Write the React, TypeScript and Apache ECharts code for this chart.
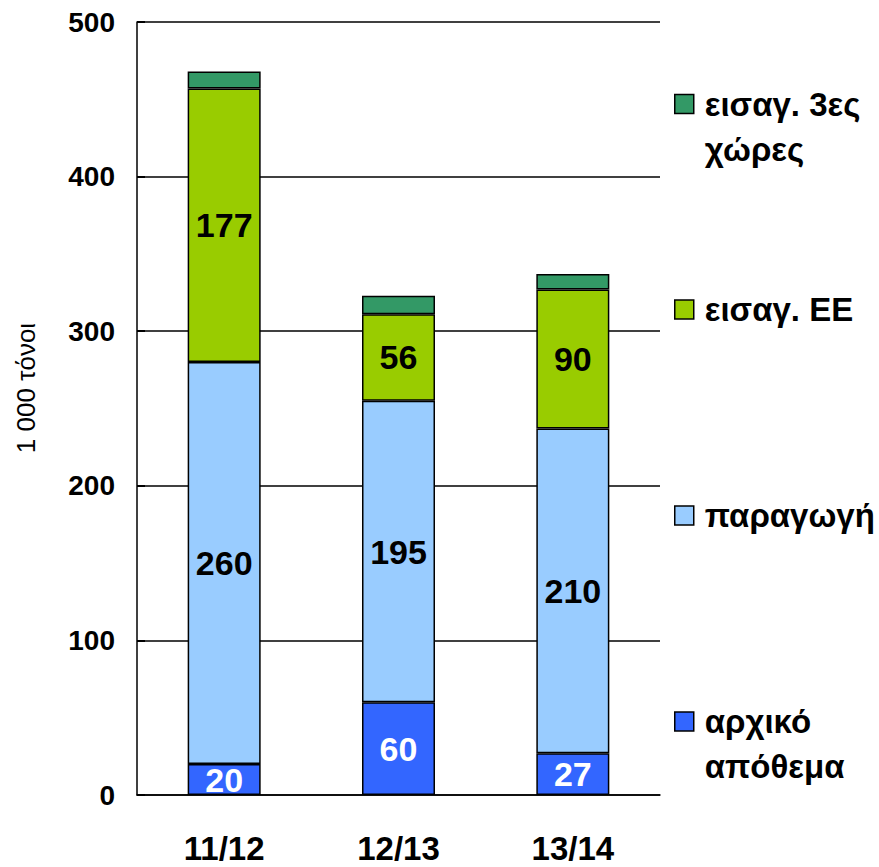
import React, { useEffect, useRef } from "react";
import * as echarts from "echarts";

const categories = ["11/12", "12/13", "13/14"];
const seriesNames = ["αρχικό\nαπόθεμα", "παραγωγή", "εισαγ. ΕΕ", "εισαγ. 3ες\nχώρες"];
const openingStock = [20, 60, 27];
const production = [260, 195, 210];
const euImports = [177, 56, 90];
const thirdCountryImports = [11, 12, 10];
const seriesColors = ["#3366FF", "#99CCFF", "#99CC00", "#339966"];
const labelColors = ["#FFFFFF", "#000000", "#000000", "#000000"];
const showLabels = [true, true, true, false];
const yTicks = { min: 0, max: 500, interval: 100 };
const yAxisTitle = "1 000 τόνοι";

const FONT = "Arial, 'Liberation Sans', Helvetica, sans-serif";

export default function App() {
  const ref = useRef<HTMLDivElement>(null);
  useEffect(() => {
    if (!ref.current) return;
    const chart = echarts.init(ref.current, null, { renderer: "svg" });
    const values = [openingStock, production, euImports, thirdCountryImports];
    const LH = 45;
    const option = {
      animation: false,
      backgroundColor: "#FFFFFF",
      textStyle: { fontFamily: FONT },
      grid: { left: 137, right: 219, top: 22, bottom: 72, containLabel: false },
      legend: {
        orient: "vertical",
        left: 674,
        top: 42,
        padding: 0,
        itemGap: 82,
        itemWidth: 19,
        itemHeight: 19,
        icon: "rect",
        selectedMode: false,
        itemStyle: { borderColor: "#000", borderWidth: 1.5 },
        data: [...seriesNames].reverse(),
        formatter: (name: string) => {
          const lines = name.split("\n");
          if (lines.length === 1) return `{s| }\n{t|${lines[0]}}\n{s| }`;
          return `{s| }\n{t|${lines[0]}}\n{t|${lines[1]}}`;
        },
        textStyle: {
          fontFamily: FONT,
          rich: {
            s: { fontSize: 34, lineHeight: LH, fontFamily: FONT },
            t: {
              fontSize: 33,
              lineHeight: LH,
              fontWeight: "bold",
              color: "#000",
              fontFamily: FONT,
              padding: [0, 0, 0, 6],
            },
          },
        },
      },
      xAxis: {
        type: "category",
        data: categories,
        axisLine: { show: true, lineStyle: { color: "#000", width: 1.5 } },
        axisTick: { show: false },
        axisLabel: {
          fontSize: 33,
          fontWeight: "bold",
          color: "#000",
          margin: 37,
          fontFamily: FONT,
        },
      },
      yAxis: {
        type: "value",
        min: yTicks.min,
        max: yTicks.max,
        interval: yTicks.interval,
        axisLine: { show: true, lineStyle: { color: "#000", width: 1.5 } },
        axisTick: { show: true, inside: true, length: 8, lineStyle: { color: "#000", width: 2 } },
        splitLine: { show: true, lineStyle: { color: "#000", width: 1.5 } },
        axisLabel: {
          fontSize: 28,
          fontWeight: "bold",
          color: "#000",
          margin: 22,
          fontFamily: FONT,
        },
      },
      graphic: [
        {
          type: "text",
          x: 26,
          y: 388,
          rotation: Math.PI / 2,
          style: {
            text: yAxisTitle,
            fontSize: 26,
            fontFamily: FONT,
            fill: "#000",
            align: "center",
            verticalAlign: "middle",
          },
        },
      ],
      series: seriesNames.map((name, i) => ({
        name,
        type: "bar",
        stack: "total",
        barWidth: 73,
        data: values[i],
        itemStyle: { color: seriesColors[i], borderColor: "#000", borderWidth: 1.5 },
        label: {
          show: showLabels[i],
          position: "inside",
          fontSize: 34,
          fontWeight: "bold",
          color: labelColors[i],
          fontFamily: FONT,
          textBorderWidth: 0,
        },
      })),
    };
    chart.setOption(option as any);
    return () => chart.dispose();
  }, []);
  return (
    <div
      ref={ref}
      style={{ position: "absolute", left: 0, top: 0, width: 879, height: 867 }}
    />
  );
}
